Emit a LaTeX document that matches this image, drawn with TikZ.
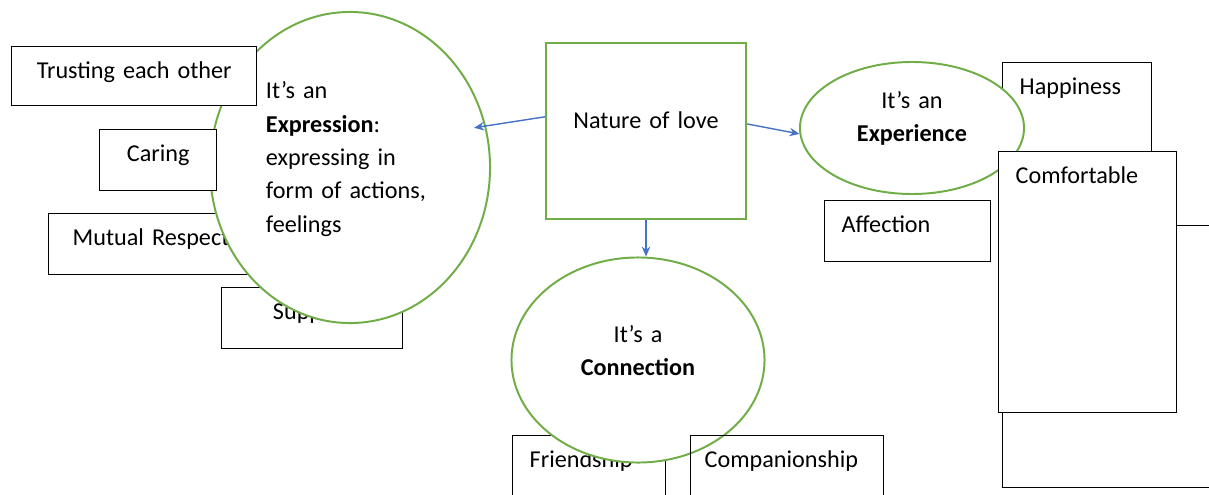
\documentclass[tikz,border=0pt]{standalone}
\usepackage{fontspec}
\setmainfont{Carlito}
\usepackage{tikz}
\usetikzlibrary{positioning,arrows.meta,shapes.geometric}
\definecolor{lovegreen}{HTML}{70AD47}
\definecolor{loveblue}{HTML}{4472C4}

\begin{document}
\begin{tikzpicture}[
x=0.025cm, y=-0.025cm,
every node/.style={font=\fontsize{17.2}{23.75}\selectfont},
leafbox/.style={draw=black, fill=white, line width=1pt, inner xsep=0.425cm, inner ysep=0pt, text height=0.8cm, text depth=0.725cm, anchor=north west},
ovalnode/.style={ellipse, draw=lovegreen, fill=white, line width=1.4pt, inner sep=0pt},
link/.style={->, >={Stealth[length=7pt,width=6pt]}, draw=loveblue, line width=1pt}
]
    \useasboundingbox (0,0) rectangle (1209,494);

    %Nodes
    \node[leafbox, text width=4.225cm, inner xsep=0.6cm, align=left]
        (respect)   at (48,213)     {Mutual Respect};
    \node[leafbox, text width=3.675cm, align=center]
        (support)   at (221,287)    {Support};
    \node[ovalnode, minimum width=7cm, minimum height=7.775cm, text width=4.2cm, align=left, text depth=110pt]
        (expr)      at (350,167.5)  {It’s an\\ \textbf{Expression}:\\ expressing in\\ form of actions,\\ feelings};
    \node[leafbox, text width=5.275cm, align=center, text depth=0.675cm]
        (trust)     at (11,46)      {Trusting each other};
    \node[leafbox, text width=2.075cm, align=center]
        (caring)    at (99,129)     {Caring};
    \node[rectangle, draw=lovegreen, fill=white, line width=1.4pt, minimum width=5cm, minimum height=4.4cm, text width=4cm, align=center, text depth=14.9pt, inner sep=0pt]
        (nature)    at (646,131)    {Nature of love};
    \node[leafbox, text width=2.875cm, align=left, text depth=1.7cm]
        (happy)     at (1002,62)    {Happiness};
    \node[ovalnode, minimum width=5.6cm, minimum height=3.3cm, text width=3cm, align=center, text depth=39.8pt]
        (exper)     at (912,128)    {It’s an\\ \textbf{Experience}};
    \node[leafbox, text width=5.15cm, text depth=5.75cm]
        (blank)     at (1002,225)   {};
    \node[leafbox, text width=3.6cm, align=left, text depth=5.725cm]
        (comfort)   at (998,151)    {Comfortable};
    \node[leafbox, text width=3.3cm, align=left]
        (affect)    at (824,200)    {Affection};
    \node[leafbox, text width=2.975cm, align=left, text depth=1.2cm]
        (friend)    at (512,435)    {Friendship};
    \node[ovalnode, minimum width=6.325cm, minimum height=5.125cm, text width=3.2cm, align=center, text depth=37pt]
        (conn)      at (638,360)    {It’s a\\ \textbf{Connection}};
    \node[leafbox, fill=none, text width=4.125cm, inner xsep=0.35cm, align=left, text depth=1.2cm]
        (compan)    at (690,435)    {Companionship};

    %Lines
    \draw[link, shorten >=-0.3cm] (nature.172) -- (expr.17);
    \draw[link] (nature.4) -- (exper.183);
    \draw[link] (nature.south) -- (nature.south |- conn.north);
\end{tikzpicture}
\end{document}
